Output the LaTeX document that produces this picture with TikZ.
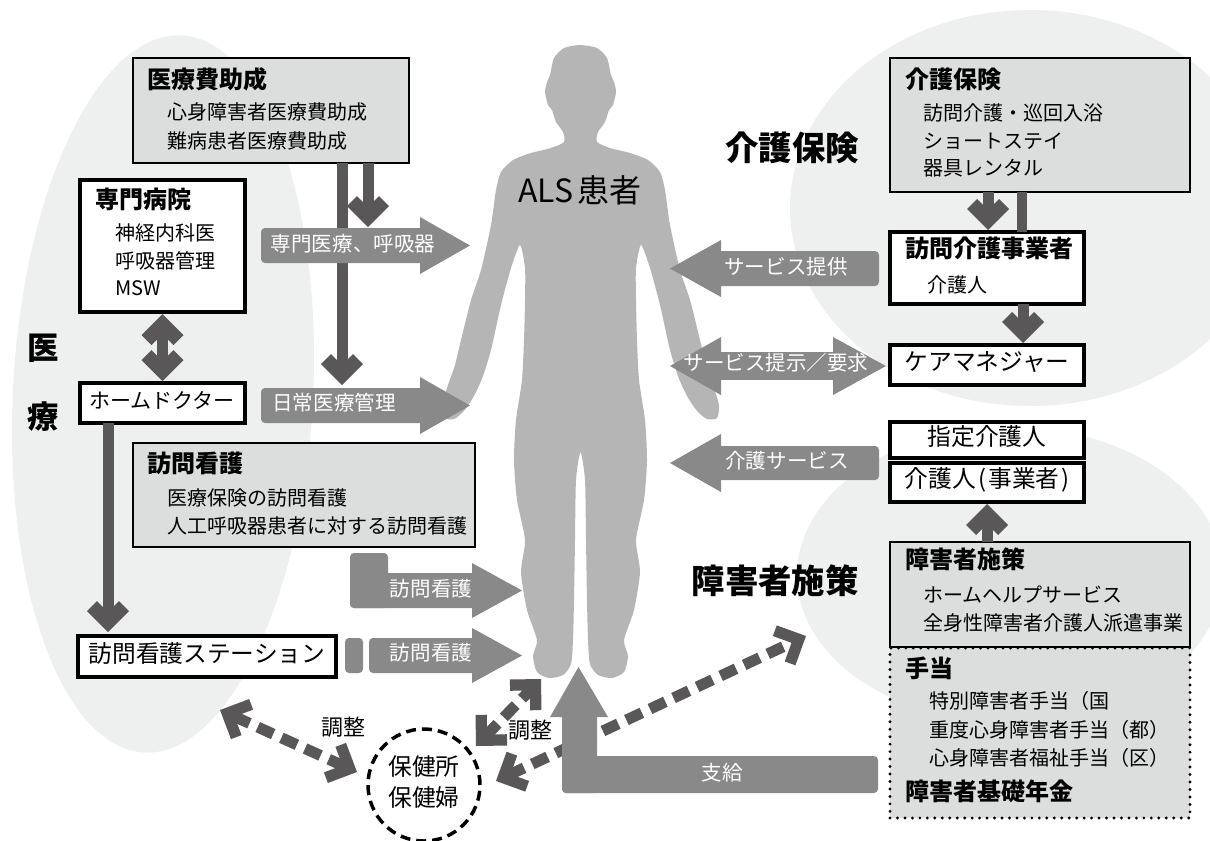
\documentclass[tikz,border=0pt]{standalone}
\usepackage{fontspec}
\setmainfont{Noto Sans CJK JP}
\usetikzlibrary{calc}
\definecolor{bgell}{HTML}{EEEFEF}
\definecolor{boxgray}{HTML}{DCDDDD}
\definecolor{darkarr}{HTML}{595757}
\definecolor{midarr}{HTML}{898989}
\definecolor{bodygray}{HTML}{B5B5B6}

\tikzset{
  every node/.style={inner sep=0pt, outer sep=0pt, text height=0.88em, text depth=0.12em},
  item/.style={font=\fontsize{15pt}{18pt}\selectfont, anchor=west},
  ttl/.style={font=\fontsize{18pt}{21pt}\selectfont\bfseries, anchor=west},
  boxtxt/.style={font=\fontsize{17.8pt}{21pt}\selectfont},
  big/.style={font=\fontsize{25pt}{30pt}\selectfont\bfseries},
  arrtxt/.style={font=\fontsize{15.4pt}{18pt}\selectfont, text=white},
  smalltxt/.style={font=\fontsize{16.5pt}{19pt}\selectfont},
  thinbox/.style={draw=black, line width=1.7pt, fill=boxgray, anchor=north west},
  thickbox/.style={draw=black, line width=3pt, fill=white, anchor=north west},
  dotbox/.style={draw=black, line width=2.4pt, dash pattern=on 0pt off 5.6pt, line cap=round, fill=boxgray, anchor=north west},
  shaft/.style={draw=darkarr, line width=8.25pt},
  dashshaft/.style={draw=darkarr, line width=8.25pt, dash pattern=on 12.75pt off 6.75pt},
  blockarr/.style={fill=midarr},
  chev/.pic={\fill[darkarr] (0,0) -- (-21,21) -- (-31,11) -- (-20,0) -- (-31,-11) -- (-21,-21) -- cycle;},
  chevd/.pic={\fill[darkarr] (0,0) -- (-22,22) -- (-30,14) -- (-16,0) -- (-30,-14) -- (-22,-22) -- cycle;},
}
% chevron head #1 at point #2, pointing away from point #3
\newcommand\tipat[3]{\path let \p1=($(#2)-(#3)$), \n1={atan2(\y1,\x1)} in (#2) pic[rotate=\n1]{#1};}
% thick shaft with a chevron head
\newcommand\chevarrow[2]{\draw[shaft, shorten >=11pt] (#1) -- (#2); \tipat{chev}{#2}{#1}}

\begin{document}
\begin{tikzpicture}[x=0.75pt,y=-0.75pt]
\useasboundingbox (0,0) rectangle (1210,840);
\clip (0,0) rectangle (1210,840);
\fill[white] (0,0) rectangle (1210,840);

% background zones
\fill[bgell, rotate around={-3:(163,394)}] (163,394) ellipse [x radius=112.5pt, y radius=269.25pt];
\fill[bgell] (1030,208) ellipse [x radius=180pt, y radius=148.5pt];
\fill[bgell] (1010,575) ellipse [x radius=159.75pt, y radius=111pt];

% patient silhouette
\fill[bodygray] plot[smooth cycle, tension=0.4] coordinates {
 (580,45) (597,48) (607,58) (611,75) (614,82) (616,92) (613,105) (609,110) (605,122) (598,132)
 (597,142) (610,148) (630,153) (648,160) (660,172) (665,190) (670,225) (680,270) (690,300)
 (700,340) (706,365) (713,385) (719,405) (717,418) (707,419) (698,412) (690,401) (684,390)
 (678,376) (670,350) (660,305) (650,268) (641,245) (636,268) (636,300) (637,340) (639,380) (645,420)
 (647,460) (644,500) (636,540) (640,572) (634,610) (624,640) (628,656) (624,672) (612,678)
 (598,675) (590,664) (588,640) (587,600) (586,540) (585,480) (580.5,452)
 (576,480) (575,540) (574,600) (573,640) (571,664) (563,675) (549,678) (537,672) (533,656)
 (537,640) (527,610) (521,572) (525,540) (517,500) (514,460) (516,420) (522,380) (524,340)
 (525,300) (525,268) (520,245) (511,268) (501,305) (491,350) (483,376) (477,390) (471,401)
 (463,412) (454,419) (444,418) (442,405) (448,385) (455,365) (461,340) (471,300) (481,270)
 (491,225) (496,190) (501,172) (513,160) (531,153) (551,148) (564,142) (563,132) (556,122)
 (552,110) (548,105) (545,92) (547,82) (550,75) (554,58) (564,48)};
\node[font=\fontsize{24pt}{28pt}\selectfont] (als) at (580,197) {ALS\hspace{0.12em}患者};

% boxes
\node[thinbox, minimum width=207pt, minimum height=78.75pt] (med) at (133,58) {};
\node[thickbox, minimum width=123.75pt, minimum height=99pt] (hosp) at (80,180) {};
\node[thickbox, minimum width=123.75pt, minimum height=30pt] (hdoc) at (80,383) {};
\node[thinbox, minimum width=256.5pt, minimum height=78pt] (nurse) at (133,443) {};
\node[thickbox, minimum width=193.5pt, minimum height=30.75pt] (stn) at (78,636) {};
\node[thinbox, minimum width=225pt, minimum height=100.5pt] (kaigo) at (890,58) {};
\node[thickbox, minimum width=145.5pt, minimum height=54pt] (jigyo) at (890,232) {};
\node[thickbox, minimum width=145.5pt, minimum height=30pt] (cm) at (890,345) {};
\node[thickbox, minimum width=145.5pt, minimum height=27pt] (shitei) at (890,422) {};
\node[thickbox, minimum width=145.5pt, minimum height=29.25pt] (kgn) at (890,463) {};
\node[thinbox, minimum width=225pt, minimum height=78.75pt] (shogai) at (890,542) {};
\node[dotbox, minimum width=225pt, minimum height=127.5pt] (teate) at (890,648) {};

% coordination arrows around the public health nurse
\node[circle, draw=black, line width=2.6pt, dash pattern=on 7.5pt off 4.5pt, fill=white, minimum size=84pt] (hk) at (424,785) {};
\coordinate (dL1) at ($(hk.center)+(-67,-13)$);
\coordinate (dL2) at (220,710);
\coordinate (dR1) at ($(hk.center)+(52,-39)$);
\coordinate (dR2) at (541,679);
\coordinate (dS1) at ($(hk.center)+(72,-4)$);
\coordinate (dS2) at (806,636);
\draw[dashshaft, shorten <=10.5pt, shorten >=10.5pt] (dL1) -- (dL2);
\tipat{chevd}{dL1}{dL2} \tipat{chevd}{dL2}{dL1}
\draw[dashshaft, shorten <=10.5pt, shorten >=10.5pt] (dR1) -- (dR2);
\tipat{chevd}{dR1}{dR2} \tipat{chevd}{dR2}{dR1}
\draw[dashshaft, shorten <=10.5pt, shorten >=10.5pt] (dS1) -- (dS2);
\tipat{chevd}{dS1}{dS2} \tipat{chevd}{dS2}{dS1}
\node[smalltxt] (adj1) at (343,730) {調整};
\node[smalltxt] (adj2) at (530,733) {調整};
\node[boxtxt] (hk1) at (424,770) {保健所};
\node[boxtxt] (hk2) at (424,801) {保健婦};

% dark connectors
\chevarrow{$(med.south west)+(235,0)$}{$(med.south west)+(235,64)$}
\chevarrow{$(med.south west)+(209,0)$}{$(med.south west)+(209,222)$}
\coordinate (u1) at ($(hosp.south)+(0,2)$);
\coordinate (u2) at ($(hdoc.north)+(0,-2)$);
\draw[shaft, shorten <=11pt, shorten >=11pt] (u1) -- (u2);
\tipat{chev}{u1}{u2} \tipat{chev}{u2}{u1}
\chevarrow{$(hdoc.south west)+(28,0)$}{$(stn.north west)+(30,-4)$}
\chevarrow{$(kaigo.south west)+(98,0)$}{$(jigyo.north west)+(98,-2)$}
\draw[shaft, line width=7.5pt] ($(kaigo.south west)+(132,0)$) -- ($(jigyo.north west)+(132,0)$);
\chevarrow{$(jigyo.south west)+(133,0)$}{$(cm.north west)+(133,-2)$}
\chevarrow{$(shogai.north west)+(97,0)$}{$(kgn.south west)+(97,2)$}

% service arrows
\fill[blockarr, rounded corners=3pt] (261,228) rectangle (430,263);
\fill[blockarr] (420,217) -- (470,245.5) -- (420,274) -- cycle;
\node[arrtxt] (a1) at (353,246) {専門医療、呼吸器};
\fill[blockarr, rounded corners=3pt] (261,388) rectangle (430,423);
\fill[blockarr] (420,377) -- (470,405.5) -- (420,434) -- cycle;
\node[arrtxt] (a2) at (334,405) {日常医療管理};
\fill[blockarr, rounded corners=3pt] (350,553) rectangle (388,608);
\fill[blockarr, rounded corners=3pt] (350,573) rectangle (480,608);
\fill[blockarr] (472,563) -- (522,590.5) -- (472,618) -- cycle;
\node[arrtxt] (a3) at (431,591) {訪問看護};
\fill[blockarr, rounded corners=3pt] (345,638) rectangle (363,673);
\fill[blockarr, rounded corners=3pt] (369,638) rectangle (480,673);
\fill[blockarr] (472,628) -- (522,655.5) -- (472,683) -- cycle;
\node[arrtxt] (a4) at (431,655) {訪問看護};
\fill[blockarr, rounded corners=3pt] (712,251) rectangle (879,286);
\fill[blockarr] (721,240) -- (670,268.5) -- (721,297) -- cycle;
\node[arrtxt] (a5) at (786,269) {サービス提供};
\fill[blockarr] (715,352) rectangle (840,380);
\fill[blockarr] (721,337) -- (670,366) -- (721,395) -- cycle;
\fill[blockarr] (833,337) -- (886,366) -- (833,395) -- cycle;
\node[arrtxt] (a6) at (776,365) {サービス提示／要求};
\fill[blockarr, rounded corners=3pt] (712,446) rectangle (879,480);
\fill[blockarr] (721,434) -- (670,463) -- (721,492) -- cycle;
\node[arrtxt] (a7) at (787,463) {介護サービス};
\fill[blockarr, rounded corners=3pt] (562,712) rectangle (597,793);
\fill[blockarr, rounded corners=3pt] (562,756) rectangle (878,793);
\fill[blockarr] (550,717) -- (578.5,667) -- (608,717) -- cycle;
\node[arrtxt] (a8) at (722,775) {支給};

% box texts
\node[ttl] (medT) at (147,83) {医療費助成};
\node[item] (med1) at (167,114) {心身障害者医療費助成};
\node[item] (med2) at (167,143) {難病患者医療費助成};
\node[ttl] (hospT) at (95,203) {専門病院};
\node[item] (hosp1) at (115,235) {神経内科医};
\node[item] (hosp2) at (115,263) {呼吸器管理};
\node[item] (hosp3) at (115,290) {MSW};
\node[font=\fontsize{15.75pt}{18pt}\selectfont] (hdocT) at (162,403) {ホームドクター};
\node[ttl] (nurseT) at (147,467) {訪問看護};
\node[item] (nurse1) at (167,500) {医療保険の訪問看護};
\node[item] (nurse2) at (167,528) {人工呼吸器患者に対する訪問看護};
\node[boxtxt] (stnT) at (207,657) {訪問看護ステーション};
\node[ttl] (kaigoT) at (905,83) {介護保険};
\node[item] (kaigo1) at (923,115) {訪問介護・巡回入浴};
\node[item] (kaigo2) at (923,143) {ショートステイ};
\node[item] (kaigo3) at (923,170) {器具レンタル};
\node[ttl] (jigyoT) at (905,252) {訪問介護事業者};
\node[item] (jigyo1) at (927,287) {介護人};
\node[boxtxt] (cmT) at (987,365) {ケアマネジャー};
\node[boxtxt] (shiteiT) at (987,440) {指定介護人};
\node[boxtxt] (kgnT) at (987,482) {介護人\hspace{0.12em}(\hspace{0.06em}事業者\hspace{0.06em})};
\node[ttl] (shogaiT) at (905,563) {障害者施策};
\node[item] (shogai1) at (923,597) {ホームヘルプサービス};
\node[item] (shogai2) at (923,625) {全身性障害者介護人派遣事業};
\node[ttl] (teateT) at (905,672) {手当};
\node[item] (teate1) at (929,703) {特別障害者手当（国};
\node[item] (teate2) at (929,732) {重度心身障害者手当（都）};
\node[item] (teate3) at (929,760) {心身障害者福祉手当（区）};
\node[ttl] (teate4) at (905,795) {障害者基礎年金};

% zone labels
\node[big] (zk) at (792,155) {介護保険};
\node[big] (zs) at (775,588) {障害者施策};
\node[big, font=\fontsize{23.5pt}{28pt}\selectfont\bfseries] (zi1) at (43,354) {医};
\node[big, font=\fontsize{23.5pt}{28pt}\selectfont\bfseries] (zi2) at (43,423) {療};
\end{tikzpicture}
\end{document}
